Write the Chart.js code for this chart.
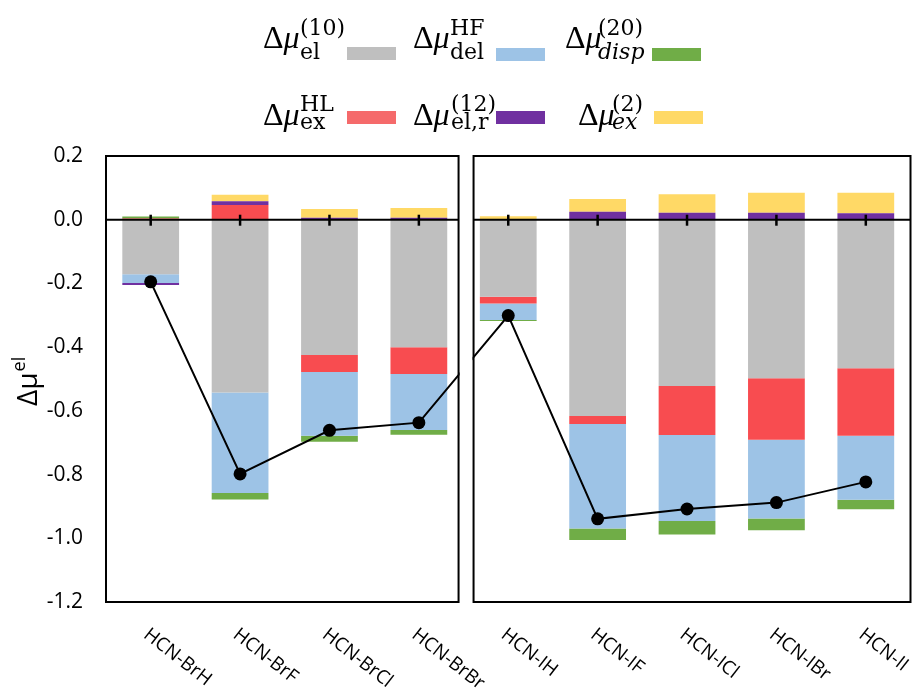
<!DOCTYPE html>
<html>
<head>
<meta charset="utf-8">
<script src="https://cdn.jsdelivr.net/npm/chart.js@4/dist/chart.umd.min.js"></script>
<style>
  html, body { margin: 0; padding: 0; background: #fff; }
  canvas { display: block; }
</style>
</head>
<body>
<canvas id="chart" width="917" height="691"></canvas>
<script>
// Complexes along the horizontal axis
const categories = ['HCN-BrH', 'HCN-BrF', 'HCN-BrCl', 'HCN-BrBr', 'HCN-IH', 'HCN-IF', 'HCN-ICl', 'HCN-IBr', 'HCN-II'];

// Components of the dipole-moment change (stacked bars)
const el10  = [-0.171, -0.542, -0.425, -0.400, -0.242, -0.616, -0.522, -0.498, -0.466];
const exHL  = [ 0.004,  0.046, -0.053, -0.084, -0.021, -0.025, -0.154, -0.193, -0.212];
const delHF = [-0.028, -0.316, -0.200, -0.176, -0.052, -0.328, -0.270, -0.247, -0.201];
const disp20 = [0.006, -0.020, -0.019, -0.015, -0.003, -0.036, -0.042, -0.037, -0.030];
const elr12 = [-0.006,  0.012,  0.006,  0.006,  0.001,  0.025,  0.022,  0.022,  0.020];
const ex2   = [ 0.000,  0.020,  0.028,  0.031,  0.010,  0.040,  0.058,  0.063,  0.065];

// Total change (black markers)
const total = [-0.195, -0.798, -0.661, -0.637, -0.301, -0.939, -0.908, -0.888, -0.823];

// Value axis
const yMin = -1.2;
const yMax = 0.2;
const yStep = 0.2;

const COLORS = {
  el10: '#BFBFBF', exHL: '#F84C50', delHF: '#9DC3E6',
  disp20: '#70AD47', elr12: '#7030A0', ex2: '#FFD966'
};

// Legend entries: Δμ with superscript / subscript, plus a colour swatch
const legendLayout = [
  { x: 263, base: 48, supBase: 35, subBase: 59, sup: '(10)', sub: 'el',   subItalic: false, sx: 300, sw: [347, 47, 49, 13], color: '#BFBFBF' },
  { x: 413, base: 48, supBase: 35, subBase: 59, sup: 'HF',   sub: 'del',  subItalic: false, sx: 450, sw: [496, 48, 49, 13], color: '#9DC3E6' },
  { x: 565, base: 48, supBase: 35, subBase: 59, sup: '(20)', sub: 'disp', subItalic: true,  sx: 598, sw: [652, 48, 49, 13], color: '#70AD47' },
  { x: 263, base: 125, supBase: 111, subBase: 129, sup: 'HL',   sub: 'ex',   subItalic: false, sx: 300, sw: [347, 111, 49, 13], color: '#F56A6B' },
  { x: 413, base: 125, supBase: 111, subBase: 129, sup: '(12)', sub: 'el,r', subItalic: false, sx: 451, sw: [496, 111, 49, 13], color: '#7030A0' },
  { x: 578, base: 125, supBase: 111, subBase: 129, sup: '(2)',  sub: 'ex',   subItalic: true,  sx: 612, sw: [654, 111, 49, 13], color: '#FFD966' }
];

// Two framed panels, zero line with cross tick marks, and a white gap between the panels
const panelPlugin = {
  id: 'panels',
  afterDatasetsDraw(chart) {
    const { ctx, chartArea: a, scales: { x, y } } = chart;
    const split = (x.getPixelForValue(3) + x.getPixelForValue(4)) / 2;
    const boxes = [[a.left, split - 5], [split + 10, a.right]];
    const y0 = y.getPixelForValue(0);
    ctx.save();
    ctx.fillStyle = '#fff';
    ctx.fillRect(split - 4, a.top - 3, 13, a.bottom - a.top + 6);
    ctx.strokeStyle = '#000';
    ctx.lineWidth = 2;
    boxes.forEach(([l, r]) => {
      ctx.beginPath();
      ctx.moveTo(l, y0);
      ctx.lineTo(r, y0);
      ctx.stroke();
      ctx.strokeRect(l, a.top, r - l, a.bottom - a.top);
    });
    ctx.lineWidth = 2.5;
    categories.forEach((c, i) => {
      const px = x.getPixelForValue(i);
      ctx.beginPath();
      ctx.moveTo(px, y0 - 5);
      ctx.lineTo(px, y0 + 6);
      ctx.stroke();
    });
    ctx.restore();
  },
  afterDraw(chart) {
    const { ctx, chartArea: a, scales: { x } } = chart;
    ctx.save();

    // slanted category labels
    ctx.font = '19px "Open Sans"';
    ctx.fillStyle = '#000';
    ctx.textAlign = 'left';
    ctx.textBaseline = 'top';
    categories.forEach((c, i) => {
      const px = x.getPixelForValue(i);
      ctx.save();
      ctx.translate(px + 1, a.bottom + 23);
      ctx.rotate(38 * Math.PI / 180);
      ctx.fillText(c, 0, 0);
      ctx.restore();
    });

    // vertical axis title Δμ^el
    ctx.save();
    ctx.translate(37, 406);
    ctx.rotate(-Math.PI / 2);
    ctx.textBaseline = 'alphabetic';
    ctx.fillStyle = '#000';
    ctx.font = '28px "Open Sans"';
    ctx.fillText('Δμ', 0, 0);
    const w = ctx.measureText('Δμ').width;
    ctx.font = '18px "Open Sans"';
    ctx.fillText('el', w + 1, -12);
    ctx.restore();

    // legend
    ctx.textBaseline = 'alphabetic';
    legendLayout.forEach(it => {
      ctx.fillStyle = '#000';
      ctx.font = '32px "Liberation Serif"';
      ctx.fillText('Δ', it.x, it.base);
      const dw = ctx.measureText('Δ').width;
      ctx.font = 'italic 32px "Liberation Serif"';
      ctx.fillText('μ', it.x + dw, it.base);
      ctx.font = '22px "DejaVu Serif"';
      ctx.fillText(it.sup, it.sx, it.supBase);
      ctx.font = (it.subItalic ? 'italic ' : '') + '22px "DejaVu Serif"';
      ctx.fillText(it.sub, it.sx, it.subBase);
      ctx.fillStyle = it.color;
      ctx.fillRect(it.sw[0], it.sw[1], it.sw[2], it.sw[3]);
    });
    ctx.restore();
  }
};

const barDs = (data, color) => ({
  type: 'bar', data, backgroundColor: color, borderWidth: 0,
  stack: 'parts', order: 1,
  categoryPercentage: 1.0, barPercentage: 0.635
});

new Chart(document.getElementById('chart'), {
  data: {
    labels: categories,
    datasets: [
      barDs(el10, COLORS.el10),
      barDs(exHL, COLORS.exHL),
      barDs(delHF, COLORS.delHF),
      barDs(disp20, COLORS.disp20),
      barDs(elr12, COLORS.elr12),
      barDs(ex2, COLORS.ex2),
      {
        type: 'line', data: total, stack: 'total', order: 0,
        borderColor: '#000', borderWidth: 2, tension: 0,
        pointRadius: 6.5, pointBackgroundColor: '#000', pointBorderWidth: 0
      }
    ]
  },
  options: {
    responsive: false,
    animation: false,
    layout: { padding: { top: 156, right: 6, left: 0, bottom: 0 } },
    plugins: { legend: { display: false }, tooltip: { enabled: false } },
    scales: {
      x: {
        stacked: true,
        grid: { display: false, drawTicks: false },
        border: { display: false },
        ticks: { display: false },
        afterFit(s) { s.height = 89; }
      },
      y: {
        stacked: true,
        min: yMin, max: yMax,
        grid: { display: false, drawTicks: false, tickLength: 0 },
        border: { display: false },
        ticks: {
          stepSize: yStep,
          padding: 23,
          color: '#000',
          font: { family: '"Open Sans"', size: 21 },
          callback: v => (Math.abs(v) < 1e-9 ? '0.0' : Number(v).toFixed(1))
        },
        afterFit(s) { s.width = 106; }
      }
    }
  },
  plugins: [panelPlugin]
});
</script>
</body>
</html>
